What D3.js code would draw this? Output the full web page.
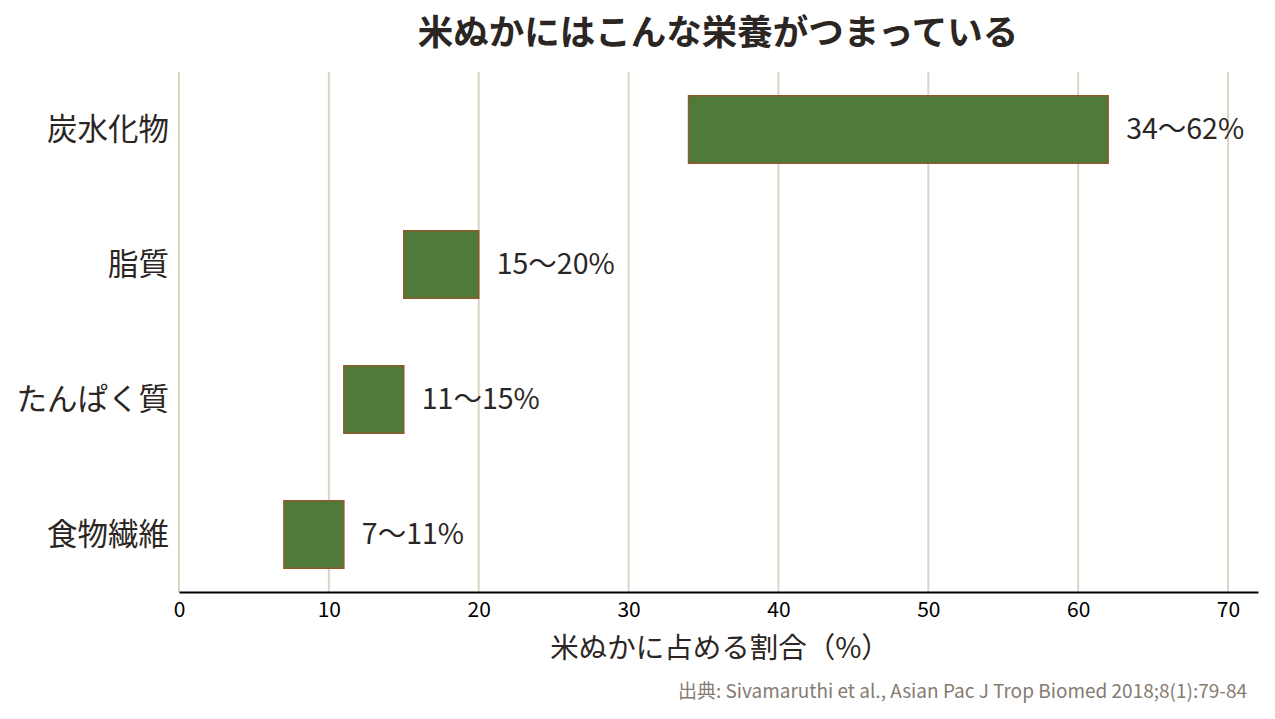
<!DOCTYPE html>
<html>
<head>
<meta charset="utf-8">
<script src="https://cdn.jsdelivr.net/npm/d3@7"></script>
<style>
  body { margin: 0; background: #fff; }
  text { font-family: "Noto Sans CJK JP", "Noto Sans", sans-serif; }
</style>
</head>
<body>
<svg id="chart" width="1275" height="719"></svg>
<script>
var categories = ["炭水化物", "脂質", "たんぱく質", "食物繊維"];
var lowValues = [34, 15, 11, 7];
var highValues = [62, 20, 15, 11];
var xTicks = [0, 10, 20, 30, 40, 50, 60, 70];

var svg = d3.select("#chart");
var w = 1275, h = 719;

var x = d3.scaleLinear().domain([0, 72]).range([179, 1258]);
var y = d3.scaleBand().domain(categories).range([62, 602])
  .paddingInner(0.5).paddingOuter(0.25);

// grid
svg.append("g").selectAll("line").data(xTicks).enter().append("line")
  .attr("x1", function(d) { return x(d); }).attr("x2", function(d) { return x(d); })
  .attr("y1", 72).attr("y2", 592)
  .attr("stroke", "#ddd3c4").attr("stroke-width", 2);

// bars
var rows = categories.map(function(c, i) {
  return { name: c, lo: lowValues[i], hi: highValues[i] };
});

svg.append("g").selectAll("rect").data(rows).enter().append("rect")
  .attr("x", function(d) { return x(d.lo); })
  .attr("y", function(d) { return y(d.name); })
  .attr("width", function(d) { return x(d.hi) - x(d.lo); })
  .attr("height", y.bandwidth())
  .attr("fill", "#507a3a")
  .attr("stroke", "#8b5a2b").attr("stroke-width", 1.5);

svg.append("g").selectAll("text").data(rows).enter().append("text")
  .attr("x", function(d) { return x(d.hi) + 18; })
  .attr("y", function(d) { return y(d.name) + y.bandwidth() / 2; })
  .attr("dy", "0.35em")
  .attr("font-size", 28.5).attr("fill", "#2b2623")
  .text(function(d) { return d.lo + "〜" + d.hi + "%"; });

// y labels
svg.append("g").selectAll("text").data(categories).enter().append("text")
  .attr("x", 169)
  .attr("y", function(d) { return y(d) + y.bandwidth() / 2; })
  .attr("dy", "0.35em")
  .attr("text-anchor", "end")
  .attr("font-size", 30.5).attr("fill", "#2b2623")
  .text(function(d) { return d; });

// x axis
var xAxis = svg.append("g").attr("transform", "translate(0,592)")
  .call(d3.axisBottom(x).tickValues(xTicks).tickSize(0).tickPadding(10));
xAxis.select(".domain").attr("stroke", "#000").attr("stroke-width", 2);
xAxis.selectAll("text").attr("font-size", 21).attr("fill", "#000")
  .attr("font-family", "'Noto Sans CJK JP', sans-serif");

svg.append("text")
  .attr("x", 720).attr("y", 658)
  .attr("text-anchor", "middle")
  .attr("font-size", 28.5).attr("fill", "#2b2623")
  .text("米ぬかに占める割合（%）");

// title
svg.append("text")
  .attr("x", 718).attr("y", 45)
  .attr("text-anchor", "middle")
  .attr("font-size", 35.5).attr("font-weight", "bold").attr("fill", "#2b2623")
  .text("米ぬかにはこんな栄養がつまっている");

// source
svg.append("text")
  .attr("x", 1247).attr("y", 698)
  .attr("text-anchor", "end")
  .attr("font-size", 19).attr("fill", "#857b70")
  .text("出典: Sivamaruthi et al., Asian Pac J Trop Biomed 2018;8(1):79-84");
</script>
</body>
</html>
